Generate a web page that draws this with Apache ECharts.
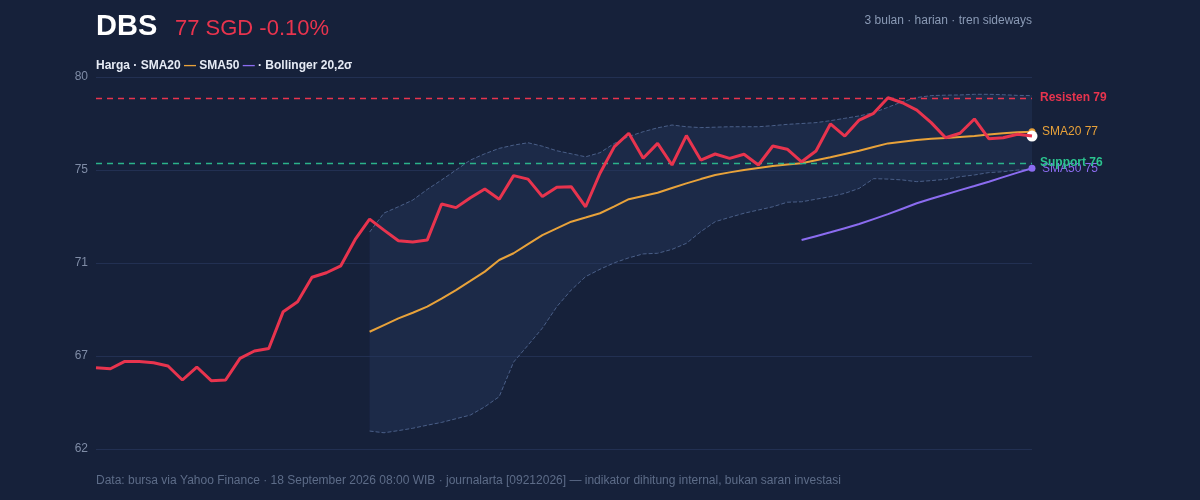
<!DOCTYPE html>
<html><head><meta charset="utf-8">
<script src="https://cdn.jsdelivr.net/npm/echarts@6/dist/echarts.min.js"></script>
<style>html,body{margin:0;padding:0;background:#16213a}#c{width:1200px;height:500px}</style>
</head><body><div id="c"></div>
<script>
const price=[66.16,66.11,66.45,66.45,66.39,66.24,65.59,66.19,65.56,65.59,66.59,66.93,67.05,68.75,69.21,70.34,70.55,70.87,72.09,73.03,72.52,72.03,71.97,72.06,73.73,73.56,74.02,74.42,73.95,75.04,74.88,74.07,74.50,74.53,73.60,75.15,76.38,77.0,75.84,76.53,75.53,76.89,75.76,76.04,75.84,76.03,75.53,76.41,76.26,75.68,76.18,77.43,76.87,77.61,77.92,78.64,78.41,78.07,77.49,76.79,77.0,77.66,76.75,76.79,76.95,76.87];
const sma20=[67.82,68.13,68.44,68.7,68.98,69.35,69.75,70.17,70.6,71.14,71.45,71.87,72.29,72.6,72.91,73.1,73.3,73.62,73.95,74.1,74.25,74.47,74.68,74.88,75.07,75.19,75.3,75.39,75.48,75.55,75.61,75.75,75.89,76.04,76.19,76.36,76.53,76.61,76.69,76.74,76.78,76.83,76.87,76.94,77.0,77.04,77.07];
const sma50=[72.06,72.24,72.42,72.61,72.8,73.03,73.26,73.51,73.76,73.97,74.17,74.37,74.56,74.76,74.97,75.18,75.38];
const bbUpper=[72.43,73.31,73.6,73.91,74.4,74.84,75.3,75.76,76.05,76.3,76.45,76.56,76.4,76.19,76.05,75.91,76.1,76.53,76.85,77.07,77.25,77.38,77.3,77.26,77.28,77.3,77.3,77.3,77.35,77.41,77.45,77.49,77.58,77.69,77.8,77.95,78.2,78.46,78.65,78.74,78.76,78.77,78.8,78.8,78.78,78.75,78.74];
const bbLower=[63.23,63.15,63.25,63.36,63.5,63.63,63.8,63.97,64.35,64.82,66.42,67.2,67.99,68.98,69.75,70.37,70.71,71.01,71.24,71.42,71.45,71.63,71.91,72.45,72.91,73.11,73.3,73.45,73.6,73.81,73.83,73.95,74.07,74.22,74.45,74.9,74.88,74.84,74.76,74.81,74.87,74.99,75.07,75.18,75.22,75.3,75.33];
const resistance=78.63, support=75.62;
const yTicks={min:62.4,max:79.6,interval:4.3};

const n=price.length;
const cats=price.map((_,i)=>i);
const pad=(arr)=>Array(n-arr.length).fill(null).concat(arr);
const bandDiff=bbUpper.map((u,i)=>+(u-bbLower[i]).toFixed(2));
const chart=echarts.init(document.getElementById('c'));
chart.setOption({
 backgroundColor:'#16213a',animation:false,
 textStyle:{fontFamily:'Liberation Sans, Arial, sans-serif'},
 grid:{left:96,right:168,top:77,bottom:51},
 graphic:[
  {type:'text',left:96,top:12,style:{text:'DBS',fill:'#ffffff',font:'bold 29px Liberation Sans, Arial'}},
  {type:'text',left:175,top:18,style:{text:'77 SGD -0.10%',fill:'#e8344e',font:'22px Liberation Sans, Arial'}},
  {type:'text',right:168,top:15,style:{text:'3 bulan · harian · tren sideways',fill:'#8a9ab5',font:'12px Liberation Sans, Arial',align:'right'}},
  {type:'text',left:96,top:60,style:{text:'{a|Harga · SMA20 }{o|—}{a| SMA50 }{p|—}{a| · Bollinger 20,2σ}',rich:{a:{fill:'#e6ebf5',font:'bold 12px Liberation Sans, Arial'},o:{fill:'#e8a23a',font:'bold 12px Liberation Sans, Arial'},p:{fill:'#8b6cf0',font:'bold 12px Liberation Sans, Arial'}}}},
  {type:'text',left:96,top:475,style:{text:'Data: bursa via Yahoo Finance · 18 September 2026 08:00 WIB · journalarta [09212026] — indikator dihitung internal, bukan saran investasi',fill:'#5d6c88',font:'12px Liberation Sans, Arial'}}
 ],
 xAxis:{type:'category',data:cats,boundaryGap:false,show:false},
 yAxis:{type:'value',min:yTicks.min,max:yTicks.max,interval:yTicks.interval,
  axisLabel:{color:'#7f8ca6',fontSize:12,formatter:v=>Math.round(v)},
  axisLine:{show:false},axisTick:{show:false},splitLine:{lineStyle:{color:'#223052'}}},
 series:[
  {type:'line',data:pad(bbLower),stack:'bb',symbol:'none',lineStyle:{color:'#4a5f88',width:1,type:'dashed'},z:1},
  {type:'line',data:pad(bandDiff),stack:'bb',symbol:'none',lineStyle:{opacity:0},areaStyle:{color:'rgba(40,58,95,0.55)'},z:1},
  {type:'line',data:pad(bbUpper),symbol:'none',lineStyle:{color:'#4a5f88',width:1,type:'dashed'},z:2},
  {type:'line',data:pad(sma20),symbol:'none',lineStyle:{color:'#e8a23a',width:2},z:3,
   endLabel:{show:true,formatter:'SMA20 77',color:'#e8a23a',fontSize:12,offset:[2,0]},
   markPoint:{symbol:'circle',symbolSize:7,itemStyle:{color:'#e8a23a'},label:{show:false},data:[{coord:[n-1,sma20[sma20.length-1]]}]}},
  {type:'line',data:pad(sma50),symbol:'none',lineStyle:{color:'#8b6cf0',width:2},z:3,
   endLabel:{show:true,formatter:'SMA50 75',color:'#8b6cf0',fontSize:12,offset:[2,0]},
   markPoint:{symbol:'circle',symbolSize:7,itemStyle:{color:'#8b6cf0'},label:{show:false},data:[{coord:[n-1,sma50[sma50.length-1]]}]}},
  {type:'line',data:price,symbol:'none',lineStyle:{color:'#e8344e',width:3},z:5,
   markPoint:{symbol:'circle',symbolSize:11,itemStyle:{color:'#ffffff'},label:{show:false},data:[{coord:[n-1,price[n-1]]}]},
   markLine:{silent:true,symbol:'none',data:[
    {yAxis:resistance,lineStyle:{color:'#e8344e',type:[6,5],width:1.3},label:{position:'end',formatter:'Resisten 79',color:'#e8344e',fontWeight:'bold',fontSize:12,distance:8}},
    {yAxis:support,lineStyle:{color:'#2bb38a',type:[6,5],width:1.3},label:{position:'end',formatter:'Support 76',color:'#2bc48f',fontWeight:'bold',fontSize:12,distance:8}}
   ]}}
 ]
});
</script></body></html>
